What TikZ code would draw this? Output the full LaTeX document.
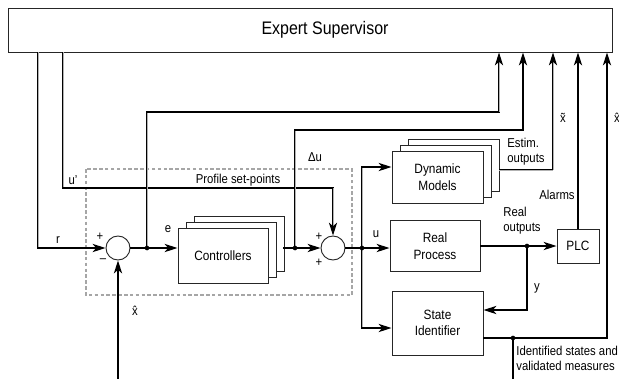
\documentclass[tikz,border=0pt]{standalone}
\usepackage{fontspec}
\setmainfont{Liberation Sans}[FakeStretch=0.88]
\usetikzlibrary{arrows.meta,shadows}

\tikzset{
  sig/.style={line width=1.5pt, line cap=rect},
  bus/.style={line width=0.9pt, double=gray!60, double distance=0.7pt},
  blk/.style={draw=black!85, line width=0.8pt, fill=white, inner sep=0pt,
    align=center, font=\fontsize{11.5}{14}\selectfont},
  stack/.style={blk,
    copy shadow={shadow xshift=0.48cm, shadow yshift=0.35cm},
    copy shadow={shadow xshift=0.24cm, shadow yshift=0.18cm}},
  sum/.style={circle, draw=black!85, line width=0.8pt, fill=white,
    minimum size=0.72cm, inner sep=0pt},
  lbl/.style={font=\fontsize{11}{13}\selectfont, inner sep=1pt},
  jdot/.style={circle, fill, inner sep=0pt, minimum size=4pt}
}

\begin{document}
\begin{tikzpicture}[x=0.03cm, y=-0.03cm,
    >={Stealth[length=11pt,width=7pt,inset=3pt]}]
  \def\Ysum{248}
  \def\Ysp{188}
  \def\Yout{246}

  \useasboundingbox (0,0) rectangle (619,378);
  \clip (0,0) rectangle (619,378);

  % dashed frame round the control loop
  \draw[densely dashed, gray!70, line width=0.9pt] (86,169) rectangle (352,295);

  % blocks
  \node[blk, minimum width=18.12cm, minimum height=1.32cm] (sup) at (310,30) {};
  \node[font=\fontsize{15.5}{18}\selectfont] (suptxt) at (325,30) {Expert Supervisor};
  \node[sum] (sum1) at (118,\Ysum) {};
  \node[sum] (sum2) at (333,\Ysum) {};
  \node[stack, minimum width=2.7cm, minimum height=1.65cm] (ctrl) at (223,255.5) {Controllers};
  \node[stack, minimum width=2.73cm, minimum height=1.56cm] (dyn) at (437.5,177) {Dynamic\\Models};
  \node[blk, minimum width=2.7cm, minimum height=1.53cm] (real) at (435,\Yout) {Real\\Process};
  \node[blk, minimum width=2.73cm, minimum height=1.92cm] (stid) at (437.5,323) {State\\Identifier};
  \node[blk, minimum width=1.26cm, minimum height=1.02cm] (plc) at (578,\Yout) {PLC};

  % corners and junctions
  \coordinate (rc) at (38,\Ysum);
  \coordinate (up1) at (63,\Ysp);
  \coordinate (up2) at (333,\Ysp);
  \coordinate (ej) at (147,\Ysum);
  \coordinate (e1) at (147,112);
  \coordinate (e2) at (499,112);
  \coordinate (cout) at (284,\Ysum);
  \coordinate (dj) at (295,\Ysum);
  \coordinate (d1) at (295,130);
  \coordinate (d2) at (523,130);
  \coordinate (uj) at (362,\Ysum);
  \coordinate (um) at (362,167);
  \coordinate (us) at (362,328);
  \coordinate (eo) at (499,170);
  \coordinate (xt) at (553,170);
  \coordinate (yj) at (527,\Yout);
  \coordinate (yc) at (527,310);
  \coordinate (ij) at (513,338);
  \coordinate (ic) at (607,338);
  \coordinate (ib) at (513,378);
  \coordinate (xb) at (118,378);

  % reference r and u'
  \draw[bus] (rc |- sup.south) -- (rc);
  \draw[sig,->] (rc) -- (sum1.west);
  \draw[bus] (up1 |- sup.south) -- (up1);
  \draw[sig] (up1) -- (up2);
  \draw[bus,->] (up2) -- (sum2.north);

  % error e
  \draw[sig] (sum1.east) -- (ej);
  \draw[sig,->] (ej) -- (ej -| ctrl.west);
  \draw[bus] (ej) -- (e1);
  \draw[sig] (e1) -- (e2);
  \draw[bus,->] (e2) -- (e2 |- sup.south);

  % controller output
  \draw[sig] (cout) -- (dj);
  \draw[sig,->] (dj) -- (sum2.west);
  \draw[bus] (dj) -- (d1);
  \draw[sig] (d1) -- (d2);
  \draw[sig,->] (d2) -- (d2 |- sup.south);

  % control action u
  \draw[sig] (sum2.east) -- (uj);
  \draw[sig,->] (uj) -- (uj -| real.west);
  \draw[bus] (um) -- (us);
  \draw[sig,->] (um) -- (um -| dyn.west);
  \draw[sig,->] (us) -- (us -| stid.west);

  % estimated and real outputs
  \draw[bus] (eo) -- (xt);
  \draw[bus,->] (xt) -- (xt |- sup.south);
  \draw[sig] (real.east) -- (yj);
  \draw[sig,->] (yj) -- (plc.west);
  \draw[sig] (yj) -- (yc);
  \draw[sig,->] (yc) -- (yc -| stid.east);
  \draw[sig,->] (plc.north) -- (plc.north |- sup.south);

  % identified states
  \draw[sig] (ij -| stid.east) -- (ic);
  \draw[sig,->] (ic) -- (ic |- sup.south);
  \draw[sig] (ij) -- (ib);
  \draw[sig,->] (xb) -- (sum1.south);

  % dots
  \node[jdot] (dot1) at (ej) {};
  \node[jdot] (dot2) at (dj) {};
  \node[jdot] (dot3) at (uj) {};
  \node[jdot] (dot4) at (yj) {};
  \node[jdot] (dot5) at (ij) {};

  % labels
  \node[lbl] (rlbl) at (58,240) {r};
  \node[lbl] (p1) at (100,237) {+};
  \node[lbl] (m1) at (103,261) {--};
  \node[lbl] (elbl) at (168,229) {e};
  \node[lbl] (xh1) at (135,311) {\^{x}};
  \node[lbl] (uplbl) at (73,180) {u'};
  \node[lbl] (splbl) at (238,180) {Profile set-points};
  \node[lbl] (dulbl) at (315,157) {Δu};
  \node[lbl] (p2) at (319,237) {+};
  \node[lbl] (p3) at (319,263) {+};
  \node[lbl] (ulbl) at (376,234) {u};
  \node[lbl, anchor=west, align=left] (eslbl) at (506,152) {Estim.\\outputs};
  \node[lbl] (xtlbl) at (563,118) {\~{x}};
  \node[lbl] (xh2) at (617,118) {\^{x}};
  \node[lbl] (allbl) at (557,195) {Alarms};
  \node[lbl, anchor=west, align=left] (rolbl) at (502,221) {Real\\outputs};
  \node[lbl] (ylbl) at (537,288) {y};
  \node[lbl, anchor=west, align=left] (idlbl) at (515,358) {Identified states and\\validated measures};
\end{tikzpicture}
\end{document}
